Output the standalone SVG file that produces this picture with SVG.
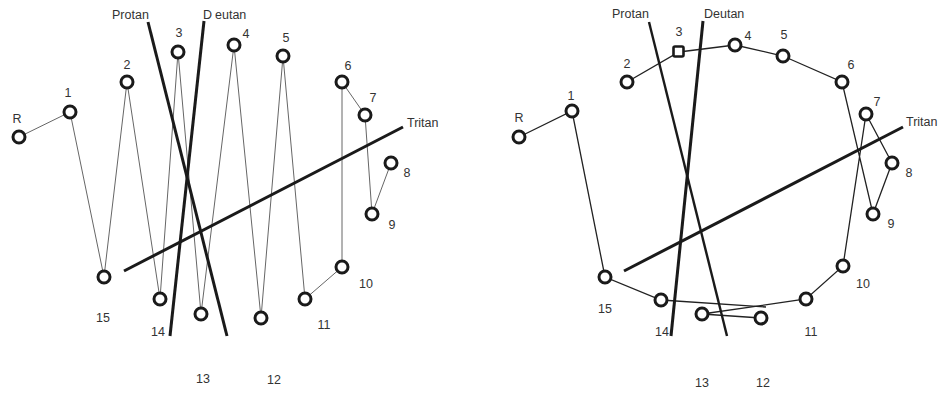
<svg xmlns="http://www.w3.org/2000/svg" width="946" height="393" viewBox="0 0 946 393">
<style>
text{font-family:"Liberation Sans",Arial,sans-serif;font-size:12.5px;fill:#333}
.cap{stroke:#1a1a1a;fill:#fff;stroke-width:3}
.axis{stroke:#1a1a1a;stroke-width:3;fill:none;stroke-linecap:butt}
.thinL{stroke:#666;stroke-width:1;fill:none}
.thinR{stroke:#222;stroke-width:1.3;fill:none}
</style>
<rect width="946" height="393" fill="#fff"/>
<g id="connectors">
<polyline id="path-left" class="thinL" points="19,137 70,112 104,277 127,82 160,299 178,52 201,314 234,45 261,318 283,56 305,299 342,267 342,82 365,115 372,214 391,163"/>
<polyline id="path-right" class="thinR" points="519,137 572,111 605,277 661,300 766,307"/>
<polyline id="path-right-2" class="thinR" points="761,318 702,314 806,299 843,266 866,114 892,163 873,214 842,82 783,56 735,45 679,52 627,82"/>
<g id="axes-left">
<line class="axis" x1="148" y1="22" x2="227" y2="336"/>
<line class="axis" x1="204" y1="21" x2="170" y2="336"/>
<line class="axis" x1="403" y1="127" x2="124" y2="271"/>
</g>
<g id="axes-right">
<line class="axis" x1="649" y1="22" x2="727" y2="336" style="stroke-width:2.4"/>
<line class="axis" x1="703" y1="21" x2="671" y2="336"/>
<line class="axis" x1="903" y1="127" x2="624" y2="271"/>
</g>
</g>
<g id="left-panel">
<g id="L-R"><circle class="cap" cx="19" cy="137" r="6"/><text x="17" y="123" text-anchor="middle">R</text></g>
<g id="L-1"><circle class="cap" cx="70" cy="112" r="6"/><text x="68" y="97" text-anchor="middle">1</text></g>
<g id="L-2"><circle class="cap" cx="127" cy="82" r="6"/><text x="127" y="69" text-anchor="middle">2</text></g>
<g id="L-3"><circle class="cap" cx="178" cy="52" r="6"/><text x="179" y="37" text-anchor="middle">3</text></g>
<g id="L-4"><circle class="cap" cx="234" cy="45" r="6"/><text x="246" y="38" text-anchor="middle">4</text></g>
<g id="L-5"><circle class="cap" cx="283" cy="56" r="6"/><text x="286" y="42" text-anchor="middle">5</text></g>
<g id="L-6"><circle class="cap" cx="342" cy="82" r="6"/><text x="348" y="70" text-anchor="middle">6</text></g>
<g id="L-7"><circle class="cap" cx="365" cy="115" r="6"/><text x="373" y="102" text-anchor="middle">7</text></g>
<g id="L-8"><circle class="cap" cx="391" cy="163" r="6"/><text x="407" y="177" text-anchor="middle">8</text></g>
<g id="L-9"><circle class="cap" cx="372" cy="214" r="6"/><text x="392" y="229" text-anchor="middle">9</text></g>
<g id="L-10"><circle class="cap" cx="342" cy="267" r="6"/><text x="366" y="288" text-anchor="middle">10</text></g>
<g id="L-11"><circle class="cap" cx="305" cy="299" r="6"/><text x="324" y="329" text-anchor="middle">11</text></g>
<g id="L-12"><circle class="cap" cx="261" cy="318" r="6"/><text x="274" y="384" text-anchor="middle">12</text></g>
<g id="L-13"><circle class="cap" cx="201" cy="314" r="6"/><text x="203" y="383" text-anchor="middle">13</text></g>
<g id="L-14"><circle class="cap" cx="160" cy="299" r="6"/><text x="158" y="336" text-anchor="middle">14</text></g>
<g id="L-15"><circle class="cap" cx="104" cy="277" r="6"/><text x="103" y="322" text-anchor="middle">15</text></g>
<g id="L-labels">
<text x="112" y="19">Protan</text>
<text x="203" y="19">D<tspan dx="3">eutan</tspan></text>
<text x="407" y="127">Tritan</text>
</g>
</g>
<g id="right-panel">
<g id="R-R"><circle class="cap" cx="519" cy="137" r="6"/><text x="519" y="122" text-anchor="middle">R</text></g>
<g id="R-1"><circle class="cap" cx="572" cy="111" r="6"/><text x="571" y="100" text-anchor="middle">1</text></g>
<g id="R-2"><circle class="cap" cx="627" cy="82" r="6"/><text x="627" y="68" text-anchor="middle">2</text></g>
<g id="R-3"><rect class="cap" x="673.5" y="46.5" width="10" height="10" rx="1.5" style="stroke-width:2.6"/><text x="679" y="36" text-anchor="middle">3</text></g>
<g id="R-4"><circle class="cap" cx="735" cy="45" r="6"/><text x="748" y="40" text-anchor="middle">4</text></g>
<g id="R-5"><circle class="cap" cx="783" cy="56" r="6"/><text x="784" y="39" text-anchor="middle">5</text></g>
<g id="R-6"><circle class="cap" cx="842" cy="82" r="6"/><text x="851" y="69" text-anchor="middle">6</text></g>
<g id="R-7"><circle class="cap" cx="866" cy="114" r="6"/><text x="877" y="106" text-anchor="middle">7</text></g>
<g id="R-8"><circle class="cap" cx="892" cy="163" r="6"/><text x="909" y="177" text-anchor="middle">8</text></g>
<g id="R-9"><circle class="cap" cx="873" cy="214" r="6"/><text x="891" y="228" text-anchor="middle">9</text></g>
<g id="R-10"><circle class="cap" cx="843" cy="266" r="6"/><text x="863" y="288" text-anchor="middle">10</text></g>
<g id="R-11"><circle class="cap" cx="806" cy="299" r="6"/><text x="811" y="336" text-anchor="middle">11</text></g>
<g id="R-12"><circle class="cap" cx="761" cy="318" r="6"/><text x="763" y="387" text-anchor="middle">12</text></g>
<g id="R-13"><circle class="cap" cx="702" cy="314" r="6"/><text x="702" y="387" text-anchor="middle">13</text></g>
<g id="R-14"><circle class="cap" cx="661" cy="300" r="6"/><text x="662" y="336" text-anchor="middle">14</text></g>
<g id="R-15"><circle class="cap" cx="605" cy="277" r="6"/><text x="605" y="313" text-anchor="middle">15</text></g>
<g id="R-labels">
<text x="612" y="18">Protan</text>
<text x="704" y="18">Deutan</text>
<text x="906" y="126">Tritan</text>
</g>
</g>
</svg>
